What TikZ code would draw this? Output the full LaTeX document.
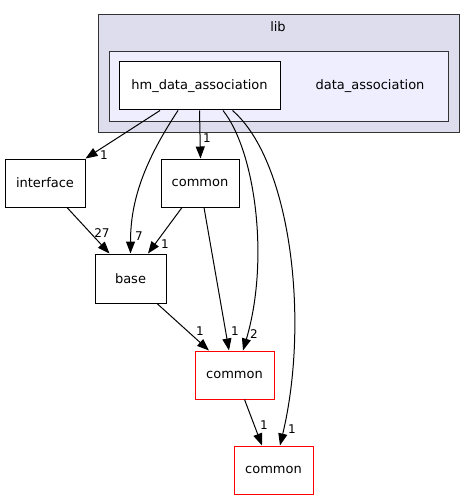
\documentclass[tikz,border=0pt]{standalone}
\usepackage{fontspec}
\setmainfont{DejaVu Sans}
\usetikzlibrary{arrows.meta}
\definecolor{clusterA}{HTML}{DDDDEE}
\definecolor{clusterB}{HTML}{EEEEFF}
\definecolor{redline}{HTML}{FF0000}
\begin{document}
\begin{tikzpicture}[x=1pt,y=-1pt,
  every node/.style={font=\fontsize{13}{15}\selectfont, inner sep=0pt},
  dirbox/.style={draw=black, line width=1pt, fill=white, minimum width=#1, minimum height=48pt},
  redbox/.style={draw=redline, line width=1pt, fill=white, minimum width=79pt, minimum height=48pt},
  dep/.style={draw=black, line width=1pt, -{Triangle[length=12pt,width=9pt]}},
  elabel/.style={font=\fontsize{12}{14}\selectfont}]
\useasboundingbox (0,0) rectangle (475,500);
% clusters
\draw[draw=black!80, line width=1pt, fill=clusterA] (98,15) rectangle (459,132);
\draw[draw=black!80, line width=1pt, fill=clusterB] (109,52) rectangle (448,121);
\node (liblabel) at (278,27) {lib};
\node (dalabel) at (370,86) {data\_association};
% nodes
\node[dirbox=161pt] (hm) at (199.5,86) {hm\_data\_association};
\node[dirbox=80pt] (iface) at (45,183) {interface};
\node[dirbox=78pt] (ctop) at (200,183) {common};
\node[dirbox=71pt, minimum height=49pt] (base) at (130.5,278.5) {base};
\node[redbox] (cmid) at (234.5,375) {common};
\node[redbox] (cbot) at (273.5,470) {common};
% edges
\draw[dep] ([xshift=-39.5pt]hm.south) -- (iface.north east);
\draw[dep] ([xshift=-21.5pt]hm.south) .. controls +(-33,50) and +(0,-54) .. (base.north);
\draw[dep] (hm.south) -- ([xshift=0.5pt]ctop.north);
\draw[dep] ([xshift=23.5pt]hm.south) .. controls +(32,40) and +(27,-91) .. ([xshift=8.5pt]cmid.north);
\draw[dep] ([xshift=33pt]hm.south) .. controls +(58,50) and +(30,-126) .. ([xshift=6.5pt]cbot.north);
\draw[dep] ([xshift=22pt]iface.south) -- ([xshift=-21pt]base.north);
\draw[dep] ([xshift=-18pt]ctop.south) -- ([xshift=17.5pt]base.north);
\draw[dep] ([xshift=4pt]ctop.south) -- ([xshift=-5.5pt]cmid.north);
\draw[dep] ([xshift=26.5pt]base.south) -- ([xshift=-25.5pt]cmid.north);
\draw[dep] ([xshift=10pt]cmid.south) -- ([xshift=-11.5pt]cbot.north);
% edge labels
\node[elabel] (l1) at (104,155) {1};
\node[elabel] (l2) at (139,236) {7};
\node[elabel] (l3) at (207,138) {1};
\node[elabel] (l4) at (254,334) {2};
\node[elabel] (l5) at (292,429) {1};
\node[elabel] (l6) at (102,233) {27};
\node[elabel] (l7) at (165,244) {1};
\node[elabel] (l8) at (235,331) {1};
\node[elabel] (l9) at (200,331) {1};
\node[elabel] (l10) at (264,425) {1};
\end{tikzpicture}
\end{document}
